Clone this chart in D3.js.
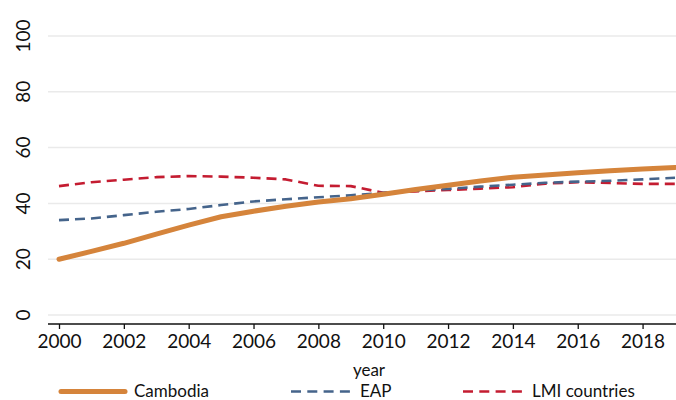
<!DOCTYPE html>
<html>
<head>
<meta charset="utf-8">
<script src="https://cdn.jsdelivr.net/npm/d3@7"></script>
<style>
  body { margin: 0; background: #fff; }
  text { font-family: Lato, "Open Sans", sans-serif; fill: #111; }
</style>
</head>
<body>
<script>
var years = [2000, 2001, 2002, 2003, 2004, 2005, 2006, 2007, 2008, 2009,
             2010, 2011, 2012, 2013, 2014, 2015, 2016, 2017, 2018, 2019];

var cambodia = [20.0, 22.8, 25.7, 29.0, 32.2, 35.2, 37.2, 39.0, 40.5, 41.7,
                43.3, 45.0, 46.5, 48.0, 49.4, 50.2, 51.0, 51.7, 52.3, 52.9];
var eap = [34.0, 34.6, 35.8, 37.0, 38.0, 39.4, 40.7, 41.5, 42.2, 42.9,
           43.8, 44.6, 45.2, 46.0, 46.7, 47.4, 47.8, 48.1, 48.6, 49.2];
var lmi = [46.2, 47.6, 48.5, 49.4, 49.8, 49.6, 49.2, 48.6, 46.3, 46.2,
           43.8, 44.3, 44.8, 45.3, 45.8, 47.1, 47.6, 47.3, 47.0, 47.0];

var xTicks = [2000, 2002, 2004, 2006, 2008, 2010, 2012, 2014, 2016, 2018];
var yTicks = [0, 20, 40, 60, 80, 100];
var seriesNames = ["Cambodia", "EAP", "LMI countries"];

var series = [
  { name: seriesNames[0], values: cambodia, color: "#d5843b", width: 5, dash: null },
  { name: seriesNames[1], values: eap, color: "#45648b", width: 2.6, dash: "10,6" },
  { name: seriesNames[2], values: lmi, color: "#c41c31", width: 2.6, dash: "10,6" }
];

var width = 676, height = 400;

var x = d3.scaleLinear().domain([2000, 2019]).range([59, 675]);
var y = d3.scaleLinear().domain([0, 100]).range([315, 36]);

var svg = d3.select("body").append("svg")
  .attr("width", width)
  .attr("height", height);

// gridlines
svg.append("g")
  .selectAll("line")
  .data(yTicks)
  .enter().append("line")
  .attr("x1", 48)
  .attr("x2", 676)
  .attr("y1", function(d) { return y(d); })
  .attr("y2", function(d) { return y(d); })
  .attr("stroke", "#eaeaea")
  .attr("stroke-width", 1.5);

// y labels, rotated
svg.append("g")
  .selectAll("text")
  .data(yTicks)
  .enter().append("text")
  .attr("transform", function(d) { return "translate(30," + y(d) + ") rotate(-90)"; })
  .attr("text-anchor", "middle")
  .style("font-size", "19px")
  .text(function(d) { return d; });

// x axis
var xAxis = d3.axisBottom(x)
  .tickValues(xTicks)
  .tickSize(5)
  .tickSizeOuter(0)
  .tickFormat(d3.format("d"));

var gx = svg.append("g")
  .attr("transform", "translate(0,324)")
  .call(xAxis);

gx.select(".domain").remove();
gx.selectAll(".tick line").attr("stroke", "#111").attr("stroke-width", 1.3);
gx.selectAll(".tick text")
  .attr("y", 24)
  .attr("dy", null)
  .style("font-size", "19px")
  .attr("fill", "#111");

gx.append("line")
  .attr("x1", 48)
  .attr("x2", 676)
  .attr("y1", 0)
  .attr("y2", 0)
  .attr("stroke", "#111")
  .attr("stroke-width", 1.5);

svg.append("text")
  .attr("x", 369)
  .attr("y", 376)
  .attr("text-anchor", "middle")
  .style("font-size", "17px")
  .text("year");

// lines
var line = d3.line()
  .x(function(d, i) { return x(years[i]); })
  .y(function(d) { return y(d); });

svg.append("g")
  .selectAll("path")
  .data(series.slice().reverse())
  .enter().append("path")
  .attr("d", function(d) { return line(d.values); })
  .attr("fill", "none")
  .attr("stroke", function(d) { return d.color; })
  .attr("stroke-width", function(d) { return d.width; })
  .attr("stroke-dasharray", function(d) { return d.dash; })
  .attr("stroke-linejoin", "round")
  .attr("stroke-linecap", function(d) { return d.dash ? "butt" : "round"; });

// legend
var legendPos = [
  { x1: 61, x2: 125, tx: 134 },
  { x1: 291, x2: 350, tx: 360 },
  { x1: 463, x2: 522, tx: 532 }
];

var legend = svg.append("g")
  .selectAll("g")
  .data(series)
  .enter().append("g");

legend.append("line")
  .attr("x1", function(d, i) { return legendPos[i].x1; })
  .attr("x2", function(d, i) { return legendPos[i].x2; })
  .attr("y1", 391.5)
  .attr("y2", 391.5)
  .attr("stroke", function(d) { return d.color; })
  .attr("stroke-width", function(d) { return d.width; })
  .attr("stroke-dasharray", function(d) { return d.dash ? "10,6.3" : null; })
  .attr("stroke-linecap", function(d) { return d.dash ? "butt" : "round"; });

legend.append("text")
  .attr("x", function(d, i) { return legendPos[i].tx; })
  .attr("y", 397)
  .style("font-size", "17px")
  .text(function(d) { return d.name; });
</script>
</body>
</html>
